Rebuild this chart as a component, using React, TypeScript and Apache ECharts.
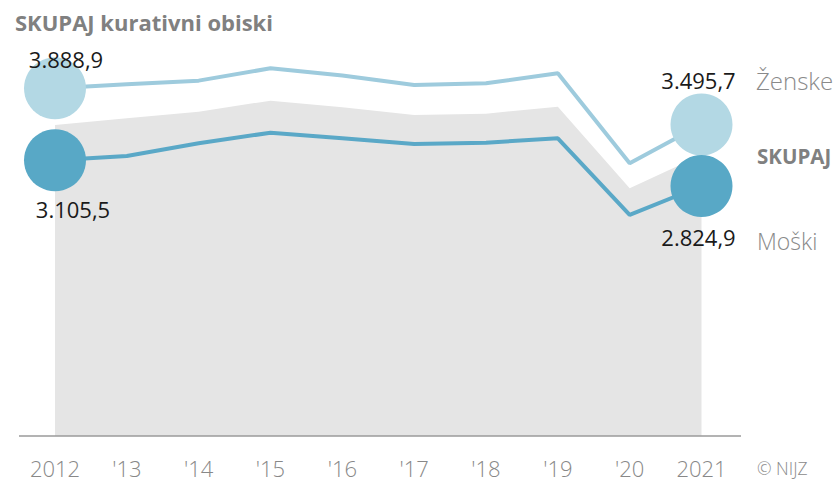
import React, { useEffect, useRef } from "react";
import * as echarts from "echarts";

const years = ["2012", "'13", "'14", "'15", "'16", "'17", "'18", "'19", "'20", "2021"];
const zenske = [3888.9, 3933, 3973, 4108, 4029, 3926, 3944, 4053, 3072, 3495.7];
const moski = [3105.5, 3152, 3290, 3406, 3345, 3283, 3297, 3345, 2509, 2824.9];
const skupaj = [3490, 3563, 3635, 3755, 3683, 3599, 3613, 3689, 2800, 3163];
const seriesNames = ["Ženske", "SKUPAJ", "Moški"];
const titleText = "SKUPAJ kurativni obiski";
const sourceText = "© NIJZ";

const FONT = "'Open Sans', 'Noto Sans', sans-serif";

function fmt(v: number): string {
  const [i, d] = v.toFixed(1).split(".");
  return i.replace(/\B(?=(\d{3})+(?!\d))/g, ".") + "," + d;
}

const last = years.length - 1;

export default function App() {
  const ref = useRef<HTMLDivElement>(null);
  useEffect(() => {
    if (!ref.current) return;
    const chart = echarts.init(ref.current, null, { renderer: "svg" });
    const labelBase = {
      show: true,
      position: "inside" as const,
      color: "#1a1a1a",
      fontSize: 22,
      fontFamily: FONT,
      formatter: (p: any) => fmt(p.value[1]),
    };
    chart.setOption({
      animation: false,
      grid: { left: 55, right: 136.5, top: 30, bottom: 43, containLabel: false },
      xAxis: {
        type: "category",
        data: years,
        boundaryGap: false,
        axisLine: { show: false },
        axisTick: { show: false },
        splitLine: { show: false },
        axisLabel: {
          color: "#888888",
          fontSize: 22,
          lineHeight: 18,
          fontWeight: 300,
          fontFamily: FONT,
          margin: 23,
        },
      },
      yAxis: {
        type: "value",
        min: 100,
        max: 4525,
        show: false,
        splitLine: { show: false },
      },
      series: [
        {
          name: seriesNames[1],
          type: "line",
          data: skupaj,
          symbol: "none",
          lineStyle: { width: 0, opacity: 0 },
          areaStyle: { color: "#e5e5e5", opacity: 1 },
          z: 1,
        },
        {
          name: seriesNames[0],
          type: "line",
          data: zenske,
          symbol: "none",
          lineStyle: { width: 4, color: "#9ecbdd" },
          z: 2,
        },
        {
          name: seriesNames[2],
          type: "line",
          data: moski,
          symbol: "none",
          lineStyle: { width: 4, color: "#5aa8c7" },
          z: 2,
        },
        {
          type: "scatter",
          symbol: "circle",
          symbolSize: 62,
          itemStyle: { color: "#b3d8e4", opacity: 1 },
          z: 3,
          label: labelBase,
          data: [
            { value: [0, zenske[0]], label: { offset: [11, -29] } },
            { value: [last, zenske[last]], label: { offset: [-3, -44] } },
          ],
        },
        {
          type: "scatter",
          symbol: "circle",
          symbolSize: 62,
          itemStyle: { color: "#58a8c6", opacity: 1 },
          z: 3,
          label: labelBase,
          data: [
            { value: [0, moski[0]], label: { offset: [18, 49] } },
            { value: [last, moski[last]], label: { offset: [-3, 51] } },
          ],
        },
      ],
      graphic: [
        {
          type: "text",
          left: 15,
          top: 11,
          style: {
            text: titleText,
            fill: "#808080",
            font: `bold 22px ${FONT}`,
          },
        },
        {
          type: "line",
          shape: { x1: 19, y1: 436, x2: 741, y2: 436 },
          style: { stroke: "#9a9a9a", lineWidth: 1.5 },
          z: 10,
        },
        {
          type: "text",
          x: 756,
          y: 80,
          style: {
            text: seriesNames[0],
            fill: "#8a8a8a",
            font: `300 24px ${FONT}`,
            textVerticalAlign: "middle",
          },
        },
        {
          type: "text",
          x: 757,
          y: 156,
          style: {
            text: seriesNames[1],
            fill: "#808080",
            font: `bold 20.5px ${FONT}`,
            textVerticalAlign: "middle",
          },
        },
        {
          type: "text",
          x: 757,
          y: 241,
          style: {
            text: seriesNames[2],
            fill: "#8a8a8a",
            font: `300 23px ${FONT}`,
            textVerticalAlign: "middle",
          },
        },
        {
          type: "text",
          x: 757,
          y: 468,
          style: {
            text: sourceText,
            fill: "#8a8a8a",
            font: `300 17.5px ${FONT}`,
            lineHeight: 16,
            textVerticalAlign: "middle",
          },
        },
      ],
    });
    return () => chart.dispose();
  }, []);
  return (
    <div
      ref={ref}
      style={{ position: "absolute", left: 0, top: 0, width: 838, height: 479 }}
    />
  );
}
